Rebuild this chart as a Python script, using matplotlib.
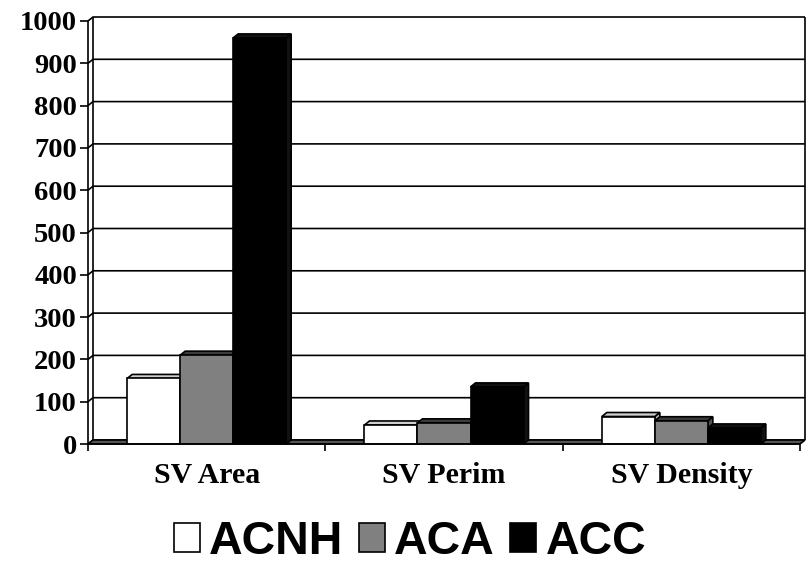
import matplotlib
matplotlib.use("Agg")
import matplotlib.pyplot as plt
from matplotlib.patches import Polygon
from matplotlib.ticker import FixedLocator, NullFormatter

# Data
categories = ["SV Area", "SV Perim", "SV Density"]
series_names = ["ACNH", "ACA", "ACC"]
acnh = [155, 45, 65]
aca = [210, 50, 55]
acc = [960, 135, 38]
y_ticks = [0, 100, 200, 300, 400, 500, 600, 700, 800, 900, 1000]

front_colors = ["white", "#808080", "black"]
top_colors = ["#cfcfcf", "#3c3c3c", "#111111"]
side_colors = ["#bcbcbc", "#505050", "#111111"]

W, H = 812, 563
fig = plt.figure(figsize=(W / 100, H / 100), dpi=100)
ax = fig.add_axes([88 / W, (H - 444) / H, (800 - 88) / W, (444 - 21) / H])
ax.set_xlim(0, 3)
ax.set_ylim(0, 1000)
for s in ax.spines.values():
    s.set_visible(False)
ax.patch.set_visible(False)

# depth of the pseudo-3D box, in pixels, converted to data units
DX_PX, DY_PX = 5, 4
bbox = ax.get_window_extent()
dx = DX_PX * 3 / bbox.width
dy = DY_PX * 1000 / bbox.height

LW = 1.2
line_kw = dict(color="black", lw=LW, clip_on=False, solid_capstyle="butt")

# back wall gridlines with the short slanted segment on the left wall
for v in y_ticks:
    ax.plot([0, dx, 3 + dx], [v, v + dy, v + dy], zorder=1, **line_kw)
ax.plot([dx, dx], [dy, 1000 + dy], zorder=1, **line_kw)
ax.plot([3 + dx, 3 + dx], [dy, 1000 + dy], zorder=1, **line_kw)

# floor
ax.add_patch(Polygon([(0, 0), (3, 0), (3 + dx, dy), (dx, dy)], closed=True,
                     facecolor="#555555", edgecolor="black", lw=LW,
                     zorder=2, clip_on=False))

# front axis lines
ax.plot([0, 0], [0, 1000], zorder=10, **line_kw)
ax.plot([0, 3], [0, 0], zorder=10, **line_kw)

# bars
values = [acnh, aca, acc]
bw = 53 / 237.33
containers = []
z = 3.0
for k, (name, vals) in enumerate(zip(series_names, values)):
    xs = [i + 0.5 + (k - 1) * bw for i in range(len(categories))]
    cont = ax.bar(xs, vals, width=bw, color=front_colors[k], edgecolor="black",
                  linewidth=LW, label=name, zorder=3)
    containers.append(cont)

# order faces so each bar's side is hidden by the bar to its right
for i in range(len(categories)):
    for k in range(len(series_names)):
        rect = containers[k].patches[i]
        x0 = rect.get_x()
        x1 = x0 + rect.get_width()
        h = rect.get_height()
        rect.set_zorder(z + 0.02)
        ax.add_patch(Polygon([(x1, 0), (x1, h), (x1 + dx, h + dy), (x1 + dx, dy)],
                             closed=True, facecolor=side_colors[k],
                             edgecolor="black", lw=LW, zorder=z, clip_on=False))
        ax.add_patch(Polygon([(x0, h), (x1, h), (x1 + dx, h + dy), (x0 + dx, h + dy)],
                             closed=True, facecolor=top_colors[k],
                             edgecolor="black", lw=LW, zorder=z + 0.01,
                             clip_on=False))
        z += 0.1

# ticks and labels
serif = dict(family="Liberation Serif", weight="bold")
ax.set_yticks(y_ticks)
ax.set_yticklabels([str(v) for v in y_ticks], fontsize=20.5, **serif)
ax.tick_params(axis="y", direction="out", length=6, width=LW, pad=2)

ax.xaxis.set_major_locator(FixedLocator([0, 1, 2, 3]))
ax.xaxis.set_major_formatter(NullFormatter())
ax.tick_params(axis="x", which="major", direction="out", length=5, width=LW)
ax.set_xticks([0.5, 1.5, 2.5], minor=True)
ax.set_xticklabels(categories, minor=True, fontsize=21.5, **serif)
ax.tick_params(axis="x", which="minor", length=0, pad=13)

fig.legend(handles=containers, labels=series_names, loc="center",
           bbox_to_anchor=(410 / W, (H - 542) / H), ncol=3, frameon=False,
           prop=dict(family="Liberation Sans", weight="bold", size=33.5),
           handlelength=0.56, handleheight=0.56, handletextpad=0.2,
           columnspacing=0.33, borderpad=0)

fig.savefig("out.png", dpi=100)
